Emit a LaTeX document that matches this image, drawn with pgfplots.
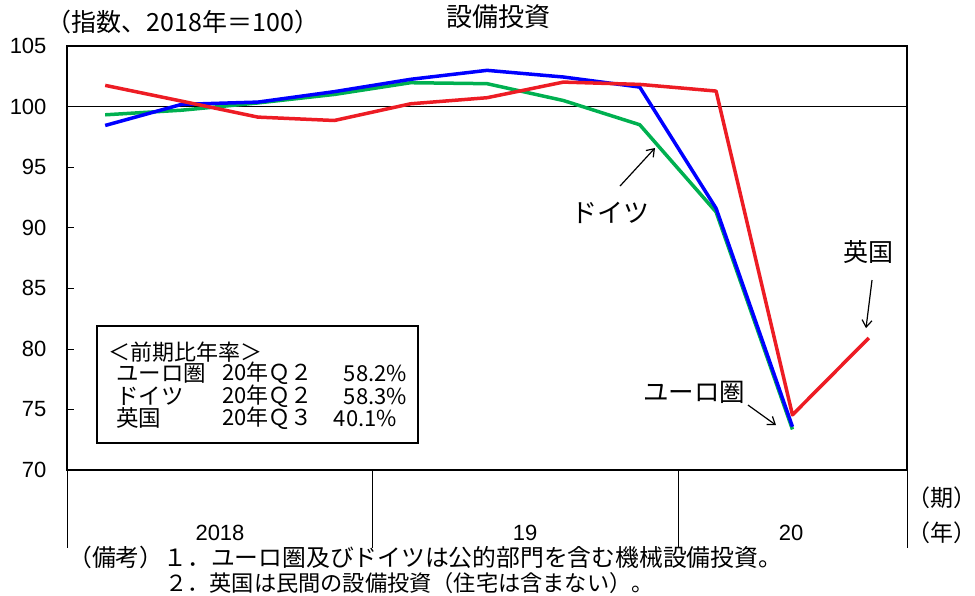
\documentclass[border=0pt]{standalone}
\usepackage{fontspec}
\setmainfont{Liberation Sans}
\newfontfamily\jp{Noto Sans CJK JP}
\usepackage{pgfplots}
\pgfplotsset{compat=1.18}
\usetikzlibrary{arrows.meta}
\definecolor{cred}{RGB}{237,28,36}
\definecolor{cgreen}{RGB}{0,176,80}
\definecolor{cblue}{RGB}{0,0,255}
\begin{document}
\begin{tikzpicture}
\useasboundingbox (-67pt,-125pt) rectangle (908pt,470pt);
\begin{axis}[
  at={(0pt,0pt)}, anchor=south west,
  scale only axis, width=840pt, height=424pt,
  xmin=-0.5, xmax=10.5, ymin=70, ymax=105,
  ytick={70,75,...,105}, xtick=\empty,
  ytick pos=left, ytick align=inside,
  major tick length=7pt,
  every tick/.style={black, line width=0.6pt},
  axis line style={line width=1.8pt},
  clip=false,
  y tick label style={font=\fontsize{22}{22}\selectfont, xshift=-17pt},
  /pgf/number format/assume math mode=true,
]
\addplot[black, line width=0.8pt] coordinates {(-0.5,100) (10.5,100)};
% Euro area
\addplot[cgreen, line width=3.5pt, line join=round] coordinates {
(0,99.32) (1,99.7) (2,100.3) (3,101.0) (4,101.97) (5,101.89) (6,100.5) (7,98.5) (8,91.3) (9,73.35)};
% Germany
\addplot[cblue, line width=3.5pt, line join=round] coordinates {
(0,98.44) (1,100.18) (2,100.37) (3,101.23) (4,102.25) (5,102.99) (6,102.44) (7,101.61) (8,91.6) (9,73.57)};
% UK
\addplot[cred, line width=3.5pt, line join=round] coordinates {
(0,101.75) (1,100.45) (2,99.13) (3,98.85) (4,100.23) (5,100.73) (6,102.02) (7,101.83) (8,101.28) (9,74.55) (10,80.9)};
% year separators
\draw[black, line width=0.6pt] (axis cs:-0.5,70) -- ++(0pt,-78pt);
\draw[black, line width=0.6pt] (axis cs:3.5,70) -- ++(0pt,-78pt);
\draw[black, line width=0.6pt] (axis cs:7.5,70) -- ++(0pt,-78pt);
\draw[black, line width=0.6pt] (axis cs:10.5,70) -- ++(0pt,-78pt);
% annotations
\draw[black, line width=1.2pt, -{Straight Barb[length=7pt,width=10pt]}] (axis cs:6.742,93.44) -- (axis cs:7.200,96.58);
\draw[black, line width=1.2pt, -{Straight Barb[length=7pt,width=10pt]}] (axis cs:8.418,75.36) -- (axis cs:8.785,73.70);
\draw[black, line width=1.2pt, -{Straight Barb[length=7pt,width=10pt]}] (axis cs:10.042,85.68) -- (axis cs:9.963,81.71);
\end{axis}
% labels
\node[font=\jp\fontsize{26}{26}\selectfont] at (543pt,257pt) {ドイツ};
\node[font=\jp\fontsize{25.5}{25.5}\selectfont] at (627pt,78pt) {ユーロ圏};
\node[font=\jp\fontsize{25}{25}\selectfont] at (801pt,218pt) {英国};
% title and unit
\node[font=\jp\fontsize{26}{26}\selectfont] at (431pt,453pt) {設備投資};
\node[font=\jp\fontsize{25}{25}\selectfont] at (116pt,448pt) {（指数、2018年＝100）};
% year labels
\node[inner sep=0pt, font=\fontsize{22}{22}\selectfont] at (153pt,-63pt) {2018};
\node[inner sep=0pt, font=\fontsize{22}{22}\selectfont] at (458pt,-63pt) {19};
\node[inner sep=0pt, font=\fontsize{22}{22}\selectfont] at (724pt,-63pt) {20};
\node[font=\jp\fontsize{23}{23}\selectfont] at (875pt,-28pt) {（期）};
\node[font=\jp\fontsize{23}{23}\selectfont] at (875pt,-63pt) {（年）};
% box
\draw[black, line width=1.2pt] (30pt,144pt) rectangle (351pt,27pt);
\node[anchor=west, font=\jp\fontsize{22}{22}\selectfont, inner sep=0pt] at (41pt,118pt) {＜前期比年率＞};
\begin{scope}[every node/.style={anchor=west, font=\jp\fontsize{22.5}{22.5}\selectfont, inner sep=0pt}]
\node at (49pt,97pt) {ユーロ圏};
\node at (49pt,74pt) {ドイツ};
\node at (49pt,52pt) {英国};
\node[font=\jp\fontsize{22}{22}\selectfont] at (155pt,97pt) {20年Ｑ２};
\node[font=\jp\fontsize{22}{22}\selectfont] at (155pt,74pt) {20年Ｑ２};
\node[font=\jp\fontsize{22}{22}\selectfont] at (155pt,52pt) {20年Ｑ３};
\node[anchor=east, font=\jp\fontsize{22}{22}\selectfont] at (340pt,97pt) {58.2\%};
\node[anchor=east, font=\jp\fontsize{22}{22}\selectfont] at (340pt,74pt) {58.3\%};
\node[anchor=east, font=\jp\fontsize{22}{22}\selectfont] at (330pt,52pt) {40.1\%};
\end{scope}
% notes
\node[anchor=west, inner sep=0pt, font=\jp\fontsize{23.8}{24}\selectfont] at (1pt,-87pt) {（備考）１．ユーロ圏及びドイツは公的部門を含む機械設備投資。};
\node[anchor=west, inner sep=0pt, font=\jp\fontsize{22.2}{22}\selectfont] at (98pt,-113pt) {２．英国は民間の設備投資（住宅は含まない）。};
\end{tikzpicture}
\end{document}
